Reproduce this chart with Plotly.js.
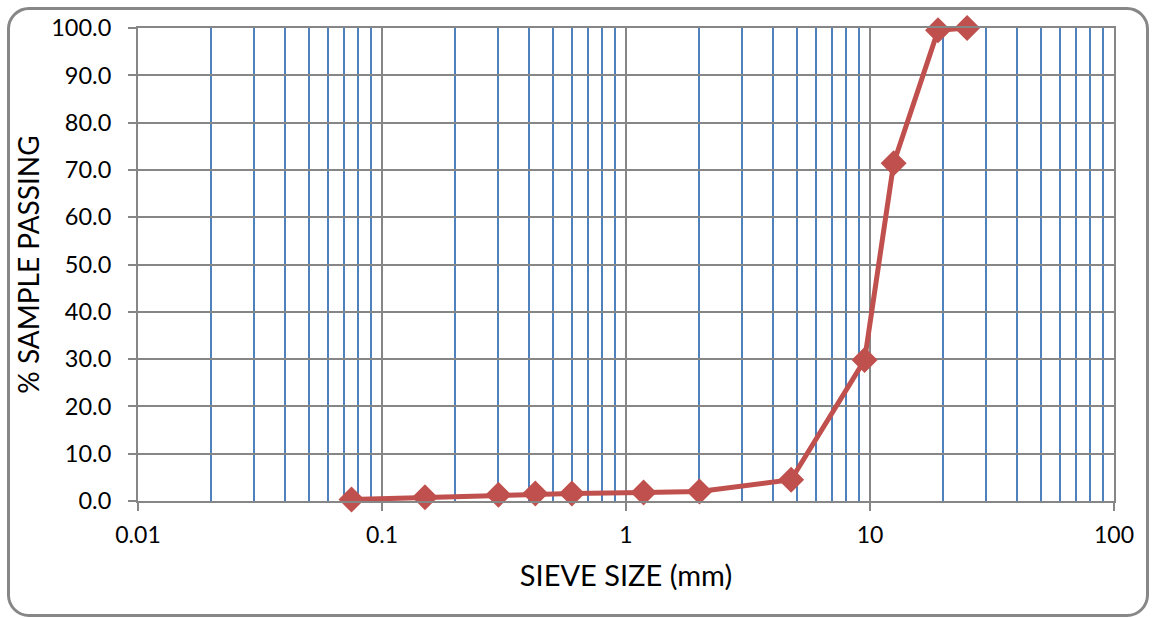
<!DOCTYPE html>
<html>
<head>
<meta charset="utf-8">
<script src="https://cdn.plot.ly/plotly-3.0.1.min.js"></script>
<style>
  html, body { margin: 0; padding: 0; background: #fff; }
  #wrap { position: relative; width: 1152px; height: 618px; overflow: hidden; }
  #chart { position: absolute; left: 0; top: 0; width: 1152px; height: 618px; }
  #frame { position: absolute; left: 7px; top: 7px; width: 1136px; height: 604px;
           border: 3px solid #878787; border-radius: 22px; pointer-events: none; }
</style>
</head>
<body>
<div id="wrap">
  <div id="chart"></div>
  <div id="frame"></div>
</div>
<script>
const sieveSize = [0.075, 0.15, 0.3, 0.425, 0.6, 1.18, 2.0, 4.75, 9.5, 12.5, 19, 25];
const percentPassing = [0.3, 0.8, 1.3, 1.6, 1.6, 1.8, 2.0, 4.5, 29.8, 71.4, 99.5, 100.0];
const xTickVals = [0.01, 0.1, 1, 10, 100];
const xTickText = ["0.01", "0.1", "1", "10", "100"];

const trace = {
  x: sieveSize,
  y: percentPassing,
  type: "scatter",
  mode: "lines+markers",
  line: { color: "#C0504D", width: 5 },
  marker: { symbol: "diamond", size: 20, color: "#C0504D" },
  cliponaxis: false,
  hoverinfo: "skip"
};

const fontFam = "Lato, 'Open Sans', sans-serif";

const layout = {
  width: 1152, height: 618,
  margin: { l: 138, r: 38, t: 28, b: 117 },
  paper_bgcolor: "rgba(0,0,0,0)",
  plot_bgcolor: "#ffffff",
  showlegend: false,
  font: { family: fontFam, color: "#000000", size: 20 },
  xaxis: {
    type: "log",
    range: [-2, 2],
    tickvals: xTickVals,
    ticktext: xTickText,
    ticks: "outside",
    ticklen: 8,
    tickwidth: 2,
    tickcolor: "#868686",
    showgrid: true,
    gridcolor: "#868686",
    gridwidth: 2,
    showline: true,
    linecolor: "#868686",
    linewidth: 2,
    mirror: true,
    zeroline: false,
    ticklabelstandoff: 4,
    tickfont: { family: fontFam, size: 23, color: "#000" },
    minor: {
      dtick: "D1",
      showgrid: true,
      gridcolor: "#4F81BD",
      gridwidth: 2,
      ticks: ""
    },
    title: { text: "SIEVE SIZE (mm)", font: { family: fontFam, size: 29, color: "#000" }, standoff: 19 }
  },
  yaxis: {
    range: [0, 100],
    dtick: 10,
    tickformat: ".1f",
    ticks: "outside",
    ticklen: 8,
    tickwidth: 2,
    tickcolor: "#868686",
    showgrid: true,
    gridcolor: "#868686",
    gridwidth: 2,
    showline: true,
    linecolor: "#868686",
    linewidth: 2,
    mirror: true,
    zeroline: false,
    ticklabelstandoff: 12,
    tickfont: { family: fontFam, size: 23.5, color: "#000" },
    title: { text: "% SAMPLE PASSING", font: { family: fontFam, size: 28, color: "#000" }, standoff: 3 }
  }
};

Plotly.newPlot("chart", [trace], layout, { staticPlot: true, displayModeBar: false });
</script>
</body>
</html>
